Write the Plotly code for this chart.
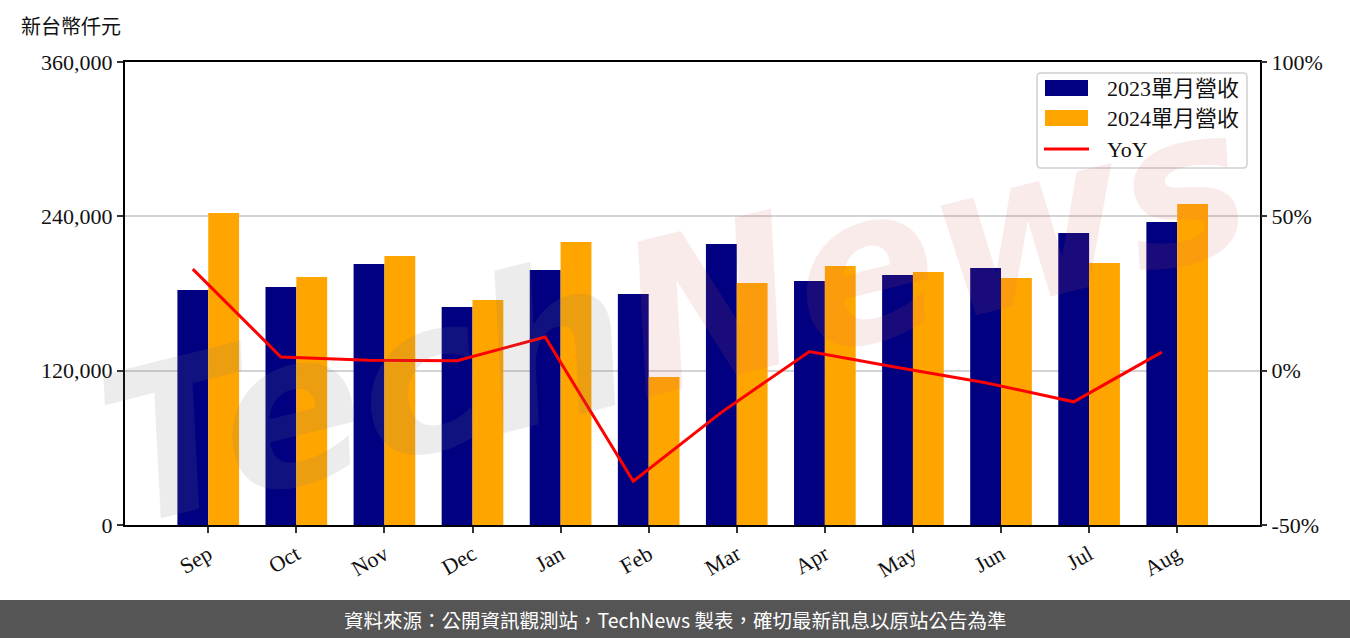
import plotly.graph_objects as go

months = ["Sep", "Oct", "Nov", "Dec", "Jan", "Feb", "Mar", "Apr", "May", "Jun", "Jul", "Aug"]
rev_2023 = [182700, 185050, 202940, 169500, 198270, 179600, 218490, 189720, 194390, 199830, 227040, 235600]
rev_2024 = [242590, 192830, 209160, 174950, 220040, 115080, 188160, 201380, 196720, 192050, 203710, 249590]
yoy = [32.9, 4.4, 3.4, 3.2, 10.9, -35.8, -13.5, 6.2, 1.0, -3.9, -10.1, 6.0]

y_ticks = [0, 120000, 240000, 360000]
y2_ticks = [-50, 0, 50, 100]

series_names = ["2023單月營收", "2024單月營收", "YoY"]
colors = ["#000080", "#FFA500", "#FF0000"]

serif = "Liberation Serif, Noto Sans CJK TC, serif"
sans = "Noto Sans CJK TC, Noto Sans, sans-serif"

idx = list(range(len(months)))
bw = 0.35

fig = go.Figure()
fig.add_trace(go.Bar(x=[i - bw / 2 for i in idx], y=rev_2023, width=bw, name=series_names[0],
                     marker=dict(color=colors[0], line=dict(width=0)), showlegend=False))
fig.add_trace(go.Bar(x=[i + bw / 2 for i in idx], y=rev_2024, width=bw, name=series_names[1],
                     marker=dict(color=colors[1], line=dict(width=0)), showlegend=False))
fig.add_trace(go.Scatter(x=[i - bw / 2 for i in idx], y=yoy, name=series_names[2], mode="lines",
                         line=dict(color=colors[2], width=3), yaxis="y2", showlegend=False))

W, H = 1350, 638
L, R, T, B = 125, 90, 62, 113
pw, ph = W - L - R, H - T - B


def px(x):
    return (x - L) / pw


def py(y):
    return (H - B - y) / ph


tickfont = dict(family=serif, size=22, color="#111")

fig.update_layout(
    width=W, height=H,
    margin=dict(l=L, r=R, t=T, b=B, pad=0),
    paper_bgcolor="white", plot_bgcolor="white",
    barmode="overlay",
    showlegend=False,
    xaxis=dict(range=[-0.945, 11.94], tickmode="array", tickvals=idx, ticktext=months,
               tickangle=-30, tickfont=tickfont,
               showline=True, linecolor="black", linewidth=2, mirror=True,
               ticks="outside", ticklen=6, tickwidth=2, tickcolor="#333", showgrid=False,
               zeroline=False),
    yaxis=dict(range=[0, 360000], tickmode="array", tickvals=y_ticks,
               ticktext=[f"{v:,}" for v in y_ticks], tickfont=tickfont,
               showline=True, linecolor="black", linewidth=2, mirror=True,
               ticks="outside", ticklen=6, tickwidth=2, tickcolor="#333",
               showgrid=True, gridcolor="#d3d3d3", gridwidth=2, zeroline=False),
    yaxis2=dict(range=[-50, 100], overlaying="y", side="right", tickmode="array",
                tickvals=y2_ticks, ticktext=[f"{v}%" for v in y2_ticks], tickfont=tickfont,
                showline=False, ticks="outside", ticklen=6, tickwidth=2, tickcolor="#333",
                showgrid=False, zeroline=False),
)

# watermark
fig.add_annotation(xref="paper", yref="paper", x=px(675), y=py(315), xanchor="center", yanchor="middle",
                   text="<i><b><span style='color:rgba(120,120,120,0.14)'>Tech</span>"
                        "<span style='color:rgba(210,90,90,0.12)'>News</span></b></i>",
                   showarrow=False, textangle=-14,
                   font=dict(family="DejaVu Sans", size=210))

# custom legend (box, swatches, labels)
lx0, lx1, ly0, ly1, rr = 1037, 1247, 73, 168, 4
fig.add_shape(type="path", xref="paper", yref="paper", layer="above",
              path=(f"M {px(lx0+rr)},{py(ly0)} L {px(lx1-rr)},{py(ly0)} "
                    f"Q {px(lx1)},{py(ly0)} {px(lx1)},{py(ly0+rr)} "
                    f"L {px(lx1)},{py(ly1-rr)} Q {px(lx1)},{py(ly1)} {px(lx1-rr)},{py(ly1)} "
                    f"L {px(lx0+rr)},{py(ly1)} Q {px(lx0)},{py(ly1)} {px(lx0)},{py(ly1-rr)} "
                    f"L {px(lx0)},{py(ly0+rr)} Q {px(lx0)},{py(ly0)} {px(lx0+rr)},{py(ly0)} Z"),
              fillcolor="rgba(255,255,255,0.8)", line=dict(color="#d0d0d0", width=1.5))
rows_y = [88, 118, 149]
for k in range(3):
    yc = rows_y[k]
    if k < 2:
        fig.add_shape(type="rect", xref="paper", yref="paper", layer="above",
                      x0=px(1045), x1=px(1088), y0=py(yc - 8), y1=py(yc + 8),
                      fillcolor=colors[k], line=dict(width=0))
    else:
        fig.add_shape(type="line", xref="paper", yref="paper", layer="above",
                      x0=px(1044), x1=px(1089), y0=py(yc), y1=py(yc),
                      line=dict(color=colors[k], width=3))
    fig.add_annotation(xref="paper", yref="paper", x=px(1105), y=py(yc), xanchor="left",
                       yanchor="middle", text=series_names[k], showarrow=False,
                       font=dict(family=serif, size=22, color="#111"))

# footer bar
fig.add_shape(type="rect", xref="paper", yref="paper",
              x0=px(0), x1=px(W), y0=py(H), y1=py(600),
              fillcolor="#555555", line=dict(width=0), layer="above")
fig.add_annotation(xref="paper", yref="paper", x=px(675), y=py(619), xanchor="center", yanchor="middle",
                   text="資料來源：公開資訊觀測站，TechNews 製表，確切最新訊息以原站公告為準",
                   showarrow=False, font=dict(family=sans, size=19.5, color="white"))

# unit label
fig.add_annotation(xref="paper", yref="paper", x=px(19), y=py(27), xanchor="left", yanchor="middle",
                   text="新台幣仟元", showarrow=False,
                   font=dict(family=serif, size=20, color="#111"))

fig.write_html("out.html", config={"displayModeBar": False},
               post_script="document.body.style.margin='0';document.body.style.overflow='hidden';")
